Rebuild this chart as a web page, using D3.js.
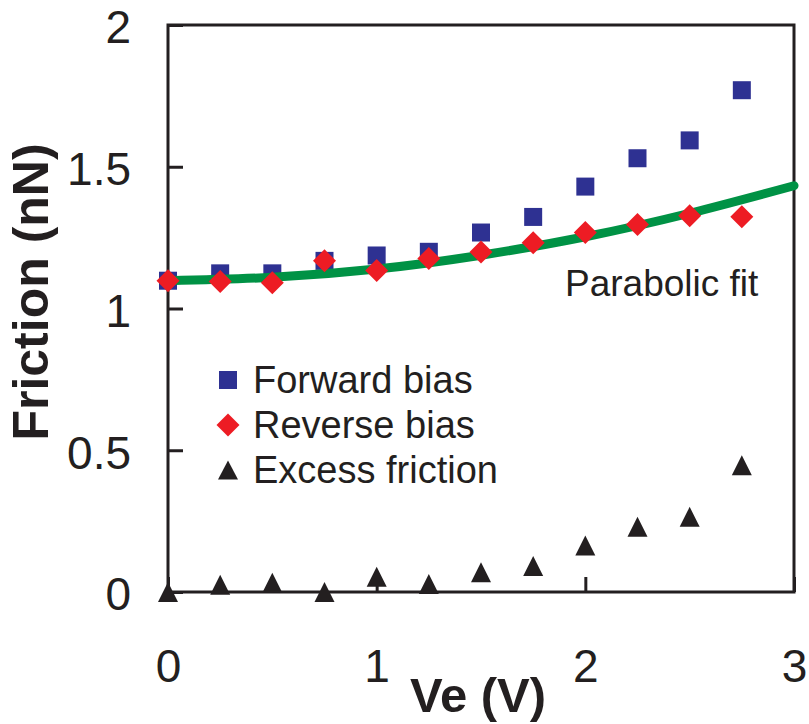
<!DOCTYPE html>
<html>
<head>
<meta charset="utf-8">
<script src="https://cdn.jsdelivr.net/npm/d3@7/dist/d3.min.js"></script>
<style>
  html, body { margin: 0; padding: 0; background: #fff; }
  svg { display: block; font-family: "Liberation Sans", Arial, sans-serif; }
</style>
</head>
<body>
<svg id="chart" width="809" height="724"></svg>
<script>
// ---- data ----
const voltages = [0, 0.25, 0.5, 0.75, 1.0, 1.25, 1.5, 1.75, 2.0, 2.25, 2.5, 2.75];
const forwardBias = [1.098, 1.124, 1.124, 1.168, 1.187, 1.200, 1.268, 1.323, 1.430, 1.530, 1.593, 1.770];
const reverseBias = [1.098, 1.095, 1.091, 1.168, 1.134, 1.176, 1.199, 1.232, 1.268, 1.296, 1.327, 1.324];
const excessFriction = [0.000, 0.026, 0.033, 0.000, 0.054, 0.028, 0.070, 0.092, 0.164, 0.230, 0.265, 0.447];
const fitX = [0, 0.5, 1.0, 1.5, 2.0, 2.5, 3.0];
const fitY = [1.098, 1.110, 1.139, 1.188, 1.253, 1.336, 1.433];
const xTicks = [0, 1, 2, 3];
const xTickLabels = ["0", "1", "2", "3"];
const yTicks = [0, 0.5, 1, 1.5, 2];
const yTickLabels = ["0", "0.5", "1", "1.5", "2"];
const legendLabels = ["Forward bias", "Reverse bias", "Excess friction"];
const fitLabel = "Parabolic fit";
const xTitle = "Ve (V)";
const yTitle = "Friction (nN)";

// ---- layout ----
const svg = d3.select("#chart");
const L = 168, R = 794, T = 25, B = 592;
const x = d3.scaleLinear().domain([0, 3]).range([L, R]);
const y = d3.scaleLinear().domain([0, 2]).range([B, T]);

const ink = "#231f20";
const blue = "#2e3192";
const red = "#ed1c24";
const green = "#009245";

// marker paths
const squarePath = s => `M${-s/2},${-s/2}h${s}v${s}h${-s}Z`;
const diamondPath = s => `M0,${-s/2}L${s/2},0L0,${s/2}L${-s/2},0Z`;
const trianglePath = (w, h) => `M0,${-h/2}L${w/2},${h/2}L${-w/2},${h/2}Z`;

// axes (inward ticks)
const yAxis = d3.axisLeft(y).tickValues(yTicks)
  .tickFormat((d, i) => yTickLabels[i]).tickSize(-15).tickPadding(37);
const xAxis = d3.axisBottom(x).tickValues(xTicks)
  .tickFormat((d, i) => xTickLabels[i]).tickSize(-15).tickPadding(57);

const gy = svg.append("g").attr("transform", `translate(${L},0)`).call(yAxis);
const gx = svg.append("g").attr("transform", `translate(0,${B})`).call(xAxis);
[gx, gy].forEach(g => {
  g.select(".domain").remove();
  g.selectAll(".tick line").attr("stroke", ink).attr("stroke-width", 3);
  g.selectAll(".tick text").attr("fill", ink)
    .style("font-size", "46px").style("font-family", "'Liberation Sans', Arial, sans-serif");
});
gy.selectAll(".tick text").attr("dy", "0.39em");
gx.selectAll(".tick text").attr("dy", "0.71em");

// frame
svg.append("rect")
  .attr("x", L).attr("y", T).attr("width", R - L).attr("height", B - T)
  .attr("fill", "none").attr("stroke", ink).attr("stroke-width", 3);

// forward bias squares (behind curve)
svg.append("g").selectAll("path").data(voltages).join("path")
  .attr("d", squarePath(18))
  .attr("transform", (d, i) => `translate(${x(d)},${y(forwardBias[i])})`)
  .attr("fill", blue);

// parabolic fit
const line = d3.line().x(d => x(d[0])).y(d => y(d[1])).curve(d3.curveNatural);
svg.append("path")
  .datum(fitX.map((v, i) => [v, fitY[i]]))
  .attr("d", line)
  .attr("fill", "none").attr("stroke", green).attr("stroke-width", 9)
  .attr("stroke-linecap", "round");

// reverse bias diamonds
svg.append("g").selectAll("path").data(voltages).join("path")
  .attr("d", diamondPath(23))
  .attr("transform", (d, i) => `translate(${x(d)},${y(reverseBias[i])})`)
  .attr("fill", red);

// excess friction triangles
svg.append("g").selectAll("path").data(voltages).join("path")
  .attr("d", trianglePath(20, 20))
  .attr("transform", (d, i) => `translate(${x(d)},${y(excessFriction[i])})`)
  .attr("fill", ink);

// legend
const legendMarkers = [
  { d: squarePath(18), fill: blue },
  { d: diamondPath(23), fill: red },
  { d: trianglePath(20, 19), fill: ink }
];
const lg = svg.append("g").attr("transform", "translate(228,380)");
const items = lg.selectAll("g").data(legendLabels).join("g")
  .attr("transform", (d, i) => `translate(0,${i * 45})`);
items.append("path")
  .attr("d", (d, i) => legendMarkers[i].d)
  .attr("fill", (d, i) => legendMarkers[i].fill);
items.append("text")
  .attr("x", 25).attr("y", 13)
  .attr("fill", ink).style("font-size", "38px")
  .text(d => d);

// fit label
svg.append("text")
  .attr("x", 565).attr("y", 296)
  .attr("fill", ink).style("font-size", "37px")
  .text(fitLabel);

// axis titles
svg.append("text")
  .attr("x", 478).attr("y", 712)
  .attr("text-anchor", "middle")
  .attr("fill", ink).style("font-size", "49px").style("font-weight", "bold")
  .text(xTitle);
svg.append("text")
  .attr("transform", "translate(48,292) rotate(-90)")
  .attr("text-anchor", "middle")
  .attr("fill", ink).style("font-size", "50px").style("font-weight", "bold")
  .text(yTitle);
</script>
</body>
</html>
